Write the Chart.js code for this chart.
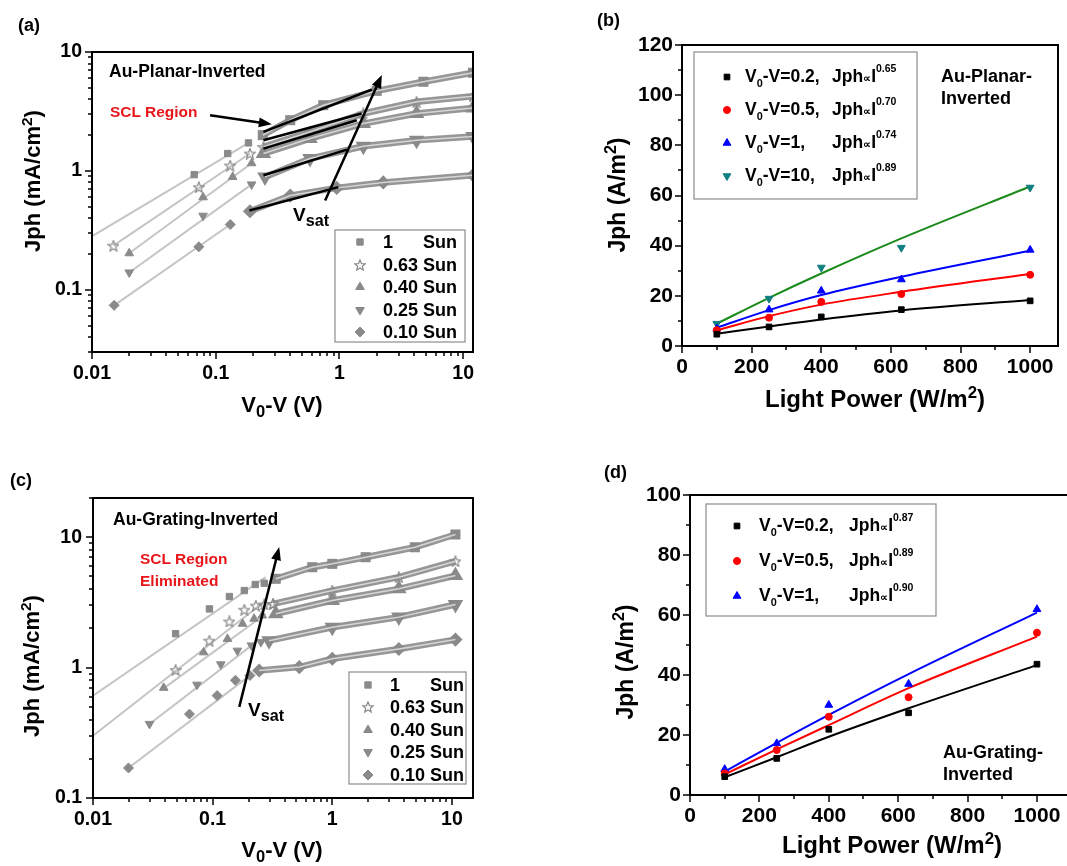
<!DOCTYPE html>
<html>
<head>
<meta charset="utf-8">
<script src="https://cdn.jsdelivr.net/npm/chart.js@4.4.1/dist/chart.umd.min.js"></script>
<style>
html, body { margin: 0; padding: 0; background: #fff; }
body { width: 1067px; height: 866px; overflow: hidden; position: relative;
       font-family: 'Liberation Sans', Arial, sans-serif; font-weight: bold; color: #000; }
canvas { position: absolute; }
.t { position: absolute; line-height: 1; white-space: nowrap; }
.t sub { font-size: 75%; vertical-align: -0.3em; line-height: 0; }
.t sup { font-size: 70%; vertical-align: 0.55em; line-height: 0; }
.ax { transform: translate(-50%, -50%); }
.ay { transform: translate(-50%, -50%) rotate(-90deg); }
.lg sub { font-size: 62%; vertical-align: -0.45em; }
.lg sup { font-size: 60%; vertical-align: 0.95em; }
.prop { font-size: 62%; }
.red { color: #e8161b; }
</style>
</head>
<body>
<canvas id="ca" width="533" height="433" style="left:0;top:0"></canvas>
<canvas id="cb" width="534" height="433" style="left:533px;top:0"></canvas>
<canvas id="cc" width="533" height="433" style="left:0;top:433px"></canvas>
<canvas id="cd" width="620" height="433" style="left:533px;top:433px"></canvas>

<div class="t" style="left:18px;top:16px;font-size:18px">(a)</div>
<div class="t" style="left:597px;top:11px;font-size:18px">(b)</div>
<div class="t" style="left:10px;top:471px;font-size:18px">(c)</div>
<div class="t" style="left:604px;top:463px;font-size:18px">(d)</div>

<div class="t ax" style="left:282px;top:405px;font-size:22px">V<sub>0</sub>-V (V)</div>
<div class="t ay" style="left:33px;top:181px;font-size:22px">Jph (mA/cm<sup>2</sup>)</div>
<div class="t ax" style="left:875px;top:399px;font-size:24px">Light Power (W/m<sup>2</sup>)</div>
<div class="t ay" style="left:617px;top:195px;font-size:23px">Jph (A/m<sup>2</sup>)</div>
<div class="t ax" style="left:282px;top:850px;font-size:22px">V<sub>0</sub>-V (V)</div>
<div class="t ay" style="left:32px;top:666px;font-size:22px">Jph (mA/cm<sup>2</sup>)</div>
<div class="t ax" style="left:892px;top:845px;font-size:24px">Light Power (W/m<sup>2</sup>)</div>
<div class="t ay" style="left:625px;top:662px;font-size:23px">Jph (A/m<sup>2</sup>)</div>

<div class="t" style="left:109px;top:63px;font-size:17.5px">Au-Planar-Inverted</div>
<div class="t red" style="left:110px;top:104px;font-size:15.5px">SCL Region</div>
<div class="t" style="left:293px;top:205px;font-size:19px">V<sub style="font-size:85%">sat</sub></div>
<div class="t" style="left:941px;top:67px;font-size:18px">Au-Planar-</div>
<div class="t" style="left:941px;top:89px;font-size:18px">Inverted</div>
<div class="t" style="left:113px;top:511px;font-size:17.5px">Au-Grating-Inverted</div>
<div class="t red" style="left:140px;top:551px;font-size:15.5px">SCL Region</div>
<div class="t red" style="left:140px;top:573px;font-size:15.5px">Eliminated</div>
<div class="t" style="left:248px;top:700px;font-size:19px">V<sub style="font-size:85%">sat</sub></div>
<div class="t" style="left:943px;top:743px;font-size:18px">Au-Grating-</div>
<div class="t" style="left:943px;top:765px;font-size:18px">Inverted</div>

<script>
const FONT = "'Liberation Sans', Arial, sans-serif";
const GRAY = '#8a8a8a';

// light intensity levels of panels (a) and (c)
const sunLevels = ['1', '0.63', '0.40', '0.25', '0.10'];

// ---- (a) Au-Planar-Inverted ----
const aTicksX = [0.01, 0.1, 1, 10];
const aTicksY = [0.1, 1, 10];
// separate points before the dense region
const aLowV = [
  [0.067, 0.125, 0.184],
  [0.0149, 0.073, 0.131, 0.189],
  [0.020, 0.079, 0.137, 0.195],
  [0.020, 0.079, 0.195],
  [0.0151, 0.073, 0.131, 0.189]
];
const aLowJ = [
  [0.93, 1.40, 1.72],
  [0.235, 0.73, 1.11, 1.40],
  [0.203, 0.60, 0.89, 1.16],
  [0.14, 0.42, 0.77],
  [0.074, 0.23, 0.354, 0.458]
];
// light grey linear fits through the low-voltage points
const aFitV = [[0.0102, 0.184], [0.0149, 0.189], [0.020, 0.195], [0.020, 0.195], [0.0151, 0.131]];
const aFitJ = [[0.286, 1.72], [0.235, 1.40], [0.203, 1.16], [0.14, 0.77], [0.074, 0.354]];
// dense measured region
const aBandV = [
  [0.24, 0.40, 0.74, 2.0, 4.77, 12],
  [0.243, 0.578, 1.56, 4.2, 12],
  [0.243, 0.578, 1.56, 4.2, 12],
  [0.25, 0.578, 1.56, 4.2, 12],
  [0.189, 0.40, 0.95, 2.26, 12]
];
const aBandJ = [
  [2.0, 2.67, 3.57, 4.71, 5.62, 6.69],
  [1.59, 2.13, 3.04, 3.81, 4.25],
  [1.40, 1.87, 2.50, 3.04, 3.38],
  [0.89, 1.27, 1.61, 1.81, 1.95],
  [0.458, 0.62, 0.72, 0.80, 0.92]
];
// black space-charge-limited fits
const aSclV = [[0.243, 1.83], [0.243, 1.51], [0.243, 1.38], [0.243, 1.15], [0.187, 0.98]];
const aSclJ = [[2.13, 4.84], [1.81, 3.04], [1.54, 2.67], [0.92, 1.51], [0.464, 0.73]];

// ---- (c) Au-Grating-Inverted ----
const cTicksX = [0.01, 0.1, 1, 10];
const cTicksY = [0.1, 1, 10];
const cLowV = [
  [0.049, 0.094, 0.138, 0.184, 0.227, 0.27],
  [0.049, 0.094, 0.138, 0.184, 0.23, 0.27, 0.32],
  [0.039, 0.084, 0.133, 0.178, 0.222, 0.26],
  [0.0297, 0.074, 0.117, 0.161, 0.211, 0.253],
  [0.0198, 0.064, 0.109, 0.155, 0.205]
];
const cLowJ = [
  [1.82, 2.82, 3.51, 3.9, 4.34, 4.44],
  [0.96, 1.61, 2.26, 2.78, 2.99, 3.05, 3.08],
  [0.70, 1.31, 1.66, 2.17, 2.37, 2.51],
  [0.37, 0.74, 1.06, 1.35, 1.48, 1.57],
  [0.17, 0.44, 0.61, 0.80, 0.87]
];
const cFitV = [[0.01, 0.278], [0.01, 0.278], [0.0395, 0.278], [0.0297, 0.23], [0.0198, 0.215]];
const cFitJ = [[0.61, 4.94], [0.30, 3.27], [0.70, 2.59], [0.37, 1.57], [0.17, 0.90]];
const cBandV = [
  [0.337, 0.68, 1.0, 1.9, 4.9, 10.7],
  [0.32, 1.0, 3.6, 10.7],
  [0.337, 1.0, 3.6, 10.7],
  [0.296, 1.0, 3.6, 10.7],
  [0.245, 0.53, 1.0, 3.6, 10.7]
];
const cBandJ = [
  [4.8, 5.89, 6.25, 7.03, 8.38, 10.5],
  [3.08, 3.9, 4.94, 6.55],
  [2.59, 3.27, 4.02, 5.08],
  [1.61, 2.04, 2.44, 3.05],
  [0.95, 1.01, 1.17, 1.39, 1.64]
];

// ---- (b) and (d): Jph versus light power ----
const lightPower = [100, 250, 400, 630, 1000];
const bTicksX = [0, 200, 400, 600, 800, 1000];
const bTicksY = [0, 20, 40, 60, 80, 100, 120];
const bJph02 = [4.7, 7.6, 11.6, 14.5, 18.0];
const bJph05 = [6.3, 11.3, 17.6, 20.7, 28.4];
const bJph1 = [6.9, 14.5, 22.0, 26.5, 38.3];
const bJph10 = [8.9, 18.9, 31.3, 39.2, 63.2];
const bFit02 = [4.9, 7.8, 10.6, 14.2, 18.3];
const bFit05 = [6.3, 11.9, 16.5, 21.6, 28.7];
const bFit1 = [7.3, 14.3, 20.3, 27.6, 38.0];
const bFit10 = [8.9, 19.2, 28.9, 42.9, 63.6];

const dTicksX = [0, 200, 400, 600, 800, 1000];
const dTicksY = [0, 20, 40, 60, 80, 100];
const dJph02 = [6.1, 12.2, 21.9, 27.4, 43.6];
const dJph05 = [7.2, 15.0, 26.1, 32.6, 54.1];
const dJph1 = [8.6, 17.2, 30.0, 37.0, 61.9];
const dFit02 = [5.9, 12.6, 19.4, 28.9, 43.3];
const dFit05 = [6.9, 15.2, 23.3, 35.6, 52.8];
const dFit1 = [7.8, 17.4, 26.7, 40.3, 60.8];

// legend texts of (b) and (d)
const bBias = ['0.2,', '0.5,', '1,', '10,'];
const bExp = ['0.65', '0.70', '0.74', '0.89'];
const dBias = ['0.2,', '0.5,', '1,'];
const dExp = ['0.87', '0.89', '0.90'];

// ---------- helpers ----------
const pts = (xs, ys) => xs.map((x, i) => ({ x, y: ys[i] }));

function makeStar(size, color) {
  const c = document.createElement('canvas');
  c.width = c.height = size;
  const g = c.getContext('2d');
  g.beginPath();
  for (let i = 0; i < 10; i++) {
    const r = i % 2 ? size * 0.2 : size * 0.47;
    const a = -Math.PI / 2 + i * Math.PI / 5;
    g.lineTo(size / 2 + r * Math.cos(a), size / 2 + 0.5 + r * Math.sin(a));
  }
  g.closePath();
  g.strokeStyle = color;
  g.lineWidth = 1.2;
  g.stroke();
  return c;
}

const sunStyle = [
  { s: 'rect', rot: 0, r: 4.5 },
  { s: makeStar(12, GRAY), rot: 0, r: 5 },
  { s: 'triangle', rot: 0, r: 5 },
  { s: 'triangle', rot: 180, r: 5 },
  { s: 'rectRot', rot: 0, r: 5 }
];

function axis(type, min, max, values, size, pad, fit) {
  return {
    type, min, max, bounds: 'data',
    grid: { display: false, drawTicks: false },
    border: { display: false },
    ticks: { color: '#000', font: { family: FONT, size, weight: 'bold' }, padding: pad,
             autoSkip: false, maxRotation: 0, callback: v => String(v) },
    afterBuildTicks: s => { s.ticks = values.map(v => ({ value: v })); },
    afterFit: s => { if (s.isHorizontal()) s.height = fit; else s.width = fit; }
  };
}

function minorValues(sc) {
  const out = [];
  if (sc.type === 'logarithmic') {
    for (let e = Math.floor(Math.log10(sc.min)); e <= Math.ceil(Math.log10(sc.max)); e++) {
      for (let m = 2; m < 10; m++) {
        const v = m * Math.pow(10, e);
        if (v >= sc.min && v <= sc.max) out.push(v);
      }
    }
  } else {
    const t = sc.ticks.map(k => k.value);
    const half = (t[1] - t[0]) / 2;
    for (let v = t[0] + half; v <= sc.max; v += 2 * half) out.push(v);
  }
  return out;
}

// frame, tick marks, arrows and legend box
const deco = {
  id: 'deco',
  afterDraw(chart, args, o) {
    const { ctx, chartArea: a } = chart;
    const x = chart.scales.x, y = chart.scales.y;
    ctx.save();
    ctx.strokeStyle = '#000';
    ctx.fillStyle = '#000';
    ctx.lineWidth = 1.5;
    const tickX = (v, len) => {
      const p = Math.round(x.getPixelForValue(v));
      ctx.beginPath(); ctx.moveTo(p, a.bottom - 1); ctx.lineTo(p, a.bottom + len); ctx.stroke();
    };
    const tickY = (v, len) => {
      const p = Math.round(y.getPixelForValue(v));
      ctx.beginPath(); ctx.moveTo(a.left + 1, p); ctx.lineTo(a.left - len, p); ctx.stroke();
    };
    x.ticks.forEach(t => tickX(t.value, 7));
    y.ticks.forEach(t => tickY(t.value, 7));
    minorValues(x).forEach(v => tickX(v, 4));
    minorValues(y).forEach(v => tickY(v, 4));
    ctx.lineWidth = 2;
    ctx.strokeRect(a.left, a.top, a.right - a.left, a.bottom - a.top);

    (o.arrows || []).forEach(([x0, y0, x1, y1]) => {
      const ax0 = x.getPixelForValue(x0), ay0 = y.getPixelForValue(y0);
      const bx = x.getPixelForValue(x1), by = y.getPixelForValue(y1);
      const ang = Math.atan2(by - ay0, bx - ax0), c = Math.cos(ang), s = Math.sin(ang);
      const L = 13, W = 5;
      ctx.lineWidth = 2.5;
      ctx.beginPath(); ctx.moveTo(ax0, ay0); ctx.lineTo(bx - L * 0.7 * c, by - L * 0.7 * s); ctx.stroke();
      ctx.beginPath();
      ctx.moveTo(bx, by);
      ctx.lineTo(bx - L * c + W * s, by - L * s - W * c);
      ctx.lineTo(bx - L * c - W * s, by - L * s + W * c);
      ctx.closePath(); ctx.fill();
    });

    if (o.legend) {
      const L = o.legend;
      ctx.fillStyle = '#fff';
      ctx.fillRect(...L.box);
      ctx.strokeStyle = '#8c8c8c';
      ctx.lineWidth = 1.2;
      ctx.strokeRect(...L.box);
      L.rows.forEach((yy, i) => {
        const d = chart.data.datasets[i];
        ctx.fillStyle = d.pointBackgroundColor;
        ctx.strokeStyle = d.pointBorderColor;
        ctx.lineWidth = 1;
        Chart.helpers.drawPoint(ctx, { pointStyle: d.pointStyle, rotation: d.pointRotation || 0,
                                       radius: d.pointRadius, borderWidth: 1 }, L.x, yy);
      });
    }
    ctx.restore();
  }
};

const common = {
  responsive: false, animation: false, events: [],
  plugins: { legend: { display: false }, tooltip: { enabled: false } }
};

function logPanel(id, p) {
  const ds = [];
  // markers first so the legend can read datasets 0..4
  p.lowV.forEach((v, k) => {
    const st = sunStyle[k];
    ds.push({ data: pts(v, p.lowJ[k]), showLine: false, pointStyle: st.s, pointRotation: st.rot,
              pointRadius: st.r, pointBackgroundColor: GRAY, pointBorderColor: GRAY,
              pointBorderWidth: 1, order: 20 });
  });
  p.bandV.forEach((v, k) => {
    const st = sunStyle[k];
    ds.push({ data: pts(v, p.bandJ[k]), showLine: true, borderColor: '#969696', borderWidth: 6.5,
              pointStyle: st.s, pointRotation: st.rot, pointRadius: 2.5,
              pointBackgroundColor: GRAY, pointBorderColor: GRAY, order: 60 });
    ds.push({ data: pts(v, p.bandJ[k]), showLine: true, borderColor: '#d6d6d6', borderWidth: 1.5,
              pointRadius: 0, order: 55 });
  });
  p.fitV.forEach((v, k) => {
    ds.push({ data: pts(v, p.fitJ[k]), showLine: true, borderColor: '#c4c4c4', borderWidth: 2,
              pointRadius: 0, order: 40 });
  });
  (p.sclV || []).forEach((v, k) => {
    ds.push({ data: pts(v, p.sclJ[k]), showLine: true, borderColor: '#000', borderWidth: 2.5,
              pointRadius: 0, order: 10 });
  });
  return new Chart(document.getElementById(id), {
    type: 'scatter',
    data: { datasets: ds },
    options: {
      ...common,
      layout: { padding: p.padding },
      scales: {
        x: axis('logarithmic', p.xMin, p.xMax, p.ticksX, 19.5, p.xPad, 40),
        y: axis('logarithmic', p.yMin, p.yMax, p.ticksY, 19.5, p.yPad, p.yWidth)
      },
      plugins: { ...common.plugins, deco: { arrows: p.arrows, legend: p.legend } }
    },
    plugins: [deco]
  });
}

function powerPanel(id, p) {
  const ds = [];
  p.marks.forEach((m, k) => {
    ds.push({ data: pts(lightPower, m.data), showLine: false, pointStyle: m.style,
              pointRotation: m.rot || 0, pointRadius: m.r, pointBackgroundColor: m.color,
              pointBorderColor: m.color, pointBorderWidth: 1, order: 10 });
  });
  p.fits.forEach(f => {
    ds.push({ data: pts(lightPower, f.data), showLine: true, borderColor: f.color, borderWidth: 2,
              pointRadius: 0, cubicInterpolationMode: 'monotone', order: 20 });
  });
  return new Chart(document.getElementById(id), {
    type: 'scatter',
    data: { datasets: ds },
    options: {
      ...common,
      layout: { padding: p.padding },
      scales: {
        x: axis('linear', 0, p.xMax, p.ticksX, 21, 8.5, 40),
        y: axis('linear', 0, p.yMax, p.ticksY, 21, 9, p.yWidth)
      },
      plugins: { ...common.plugins, deco: { legend: p.legend } }
    },
    plugins: [deco]
  });
}

// ---------- build the four panels ----------
logPanel('ca', {
  lowV: aLowV, lowJ: aLowJ, fitV: aFitV, fitJ: aFitJ, bandV: aBandV, bandJ: aBandJ,
  sclV: aSclV, sclJ: aSclJ, ticksX: aTicksX, ticksY: aTicksY,
  xMin: 0.01, xMax: 12, yMin: 0.03, yMax: 10, xPad: 10, yPad: 10, yWidth: 92,
  padding: { left: 0, top: 52, right: 60, bottom: 41 },
  arrows: [[0.09, 2.94, 0.284, 2.47], [0.766, 0.564, 2.2, 6.4]],
  legend: { box: [335, 230, 130, 112], x: 360, rows: [242, 265, 287, 310, 332] }
});

logPanel('cc', {
  lowV: cLowV, lowJ: cLowJ, fitV: cFitV, fitJ: cFitJ, bandV: cBandV, bandJ: cBandJ,
  ticksX: cTicksX, ticksY: cTicksY,
  xMin: 0.01, xMax: 15, yMin: 0.1, yMax: 20, xPad: 9.5, yPad: 11, yWidth: 93,
  padding: { left: 0, top: 65, right: 60, bottom: 28 },
  arrows: [[0.167, 0.50, 0.36, 8.4]],
  legend: { box: [349, 239, 117, 112], x: 368, rows: [252, 274, 297, 319, 342] }
});

powerPanel('cb', {
  marks: [
    { data: bJph02, style: 'rect', r: 4, color: '#000' },
    { data: bJph05, style: 'circle', r: 3.5, color: '#ff0000' },
    { data: bJph1, style: 'triangle', r: 4.5, color: '#0000ff' },
    { data: bJph10, style: 'triangle', rot: 180, r: 4.5, color: '#0f7f7f' }
  ],
  fits: [
    { data: bFit02, color: '#000' },
    { data: bFit05, color: '#ff0000' },
    { data: bFit1, color: '#0000ff' },
    { data: bFit10, color: '#1a8a1a' }
  ],
  ticksX: bTicksX, ticksY: bTicksY, xMax: 1080, yMax: 120, yWidth: 149,
  padding: { left: 0, top: 45, right: 9, bottom: 47 },
  legend: { box: [161, 52, 223, 147], x: 194, rows: [77, 110, 143, 176] }
});

powerPanel('cd', {
  marks: [
    { data: dJph02, style: 'rect', r: 4, color: '#000' },
    { data: dJph05, style: 'circle', r: 3.5, color: '#ff0000' },
    { data: dJph1, style: 'triangle', r: 4.5, color: '#0000ff' }
  ],
  fits: [
    { data: dFit02, color: '#000' },
    { data: dFit05, color: '#ff0000' },
    { data: dFit1, color: '#0000ff' }
  ],
  ticksX: dTicksX, ticksY: dTicksY, xMax: 1150, yMax: 100, yWidth: 157,
  padding: { left: 0, top: 62, right: 64, bottom: 31 },
  legend: { box: [173, 71, 230, 112], x: 204, rows: [93, 128, 163] }
});

// ---------- legend texts ----------
function addText(html, left, top, size, cls) {
  const d = document.createElement('div');
  d.className = 't ' + (cls || '');
  d.style.left = left + 'px';
  d.style.top = top + 'px';
  d.style.fontSize = size + 'px';
  d.innerHTML = html;
  document.body.appendChild(d);
}
[242, 265, 287, 310, 332].forEach((cy, i) => {
  addText(sunLevels[i], 383, cy - 9, 18);
  addText('Sun', 423, cy - 9, 18);
});
[685, 707, 730, 752, 775].forEach((cy, i) => {
  addText(sunLevels[i], 390, cy - 9, 18);
  addText('Sun', 430, cy - 9, 18);
});
[77, 110, 143, 176].forEach((cy, i) => {
  addText('V<sub>0</sub>-V=' + bBias[i], 745, cy - 9, 17.5, 'lg');
  addText('Jph<span class="prop">&#x221D;</span>I<sup>' + bExp[i] + '</sup>', 832, cy - 9, 17.5, 'lg');
});
[526, 561, 596].forEach((cy, i) => {
  addText('V<sub>0</sub>-V=' + dBias[i], 759, cy - 9, 17.5, 'lg');
  addText('Jph<span class="prop">&#x221D;</span>I<sup>' + dExp[i] + '</sup>', 849, cy - 9, 17.5, 'lg');
});
</script>
</body>
</html>
